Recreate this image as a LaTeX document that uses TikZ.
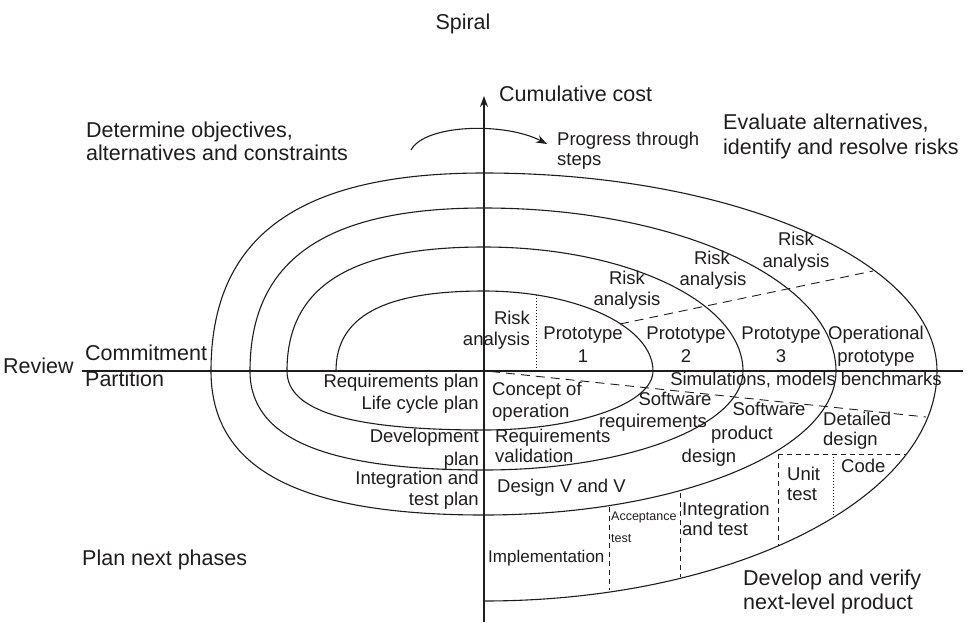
\documentclass[tikz,border=0pt]{standalone}
\usepackage{fontspec}
\setmainfont{Liberation Sans}
\usetikzlibrary{arrows.meta}
\definecolor{ink}{RGB}{30,28,28}
\begin{document}
\begin{tikzpicture}[x=1pt,y=-1pt,
  curve/.style={draw=ink,line width=1.1pt},
  axisline/.style={draw=ink,line width=1.1pt},
  dsh/.style={draw=ink,line width=0.9pt,dash pattern=on 9pt off 6pt},
  dshs/.style={draw=ink,line width=0.9pt,dash pattern=on 5pt off 4pt},
  dotl/.style={draw=ink,line width=0.9pt,dash pattern=on 1pt off 2pt},
  big/.style={inner sep=0pt,text=ink,font=\fontsize{21.5}{24}\selectfont},
  lab/.style={inner sep=0pt,text=ink,font=\fontsize{18.5}{21}\selectfont},
  labi/.style={inner sep=0pt,text=ink,font=\fontsize{17}{20}\selectfont},
  tinylab/.style={inner sep=0pt,text=ink,font=\fontsize{12.5}{14}\selectfont},
  tip/.style={-{Stealth[length=11pt,width=8pt]}}
]
\useasboundingbox (0,0) rectangle (970,622);

% axes
\coordinate (axb) at (484,622);
\coordinate (axt) at (484,96);
\coordinate (hl) at (82,371);
\coordinate (hr) at (963,371);
\draw[axisline,tip] (axb) -- (axt);
\draw[axisline] (hl) -- (hr);

% spiral
\draw[curve] (336,371) .. controls (336,316.6) and (383.4,291) .. (484,291)
 .. controls (577.3,291) and (653,326.8) .. (653,371)
 .. controls (653,403.6) and (577.3,430) .. (484,430)
 .. controls (350,430) and (287,411.1) .. (287,371)
 .. controls (287,286.7) and (350,247) .. (484,247)
 .. controls (627,247) and (743,302.5) .. (743,371)
 .. controls (743,425.7) and (627,470) .. (484,470)
 .. controls (324.9,470) and (250,438.3) .. (250,371)
 .. controls (250,260.2) and (324.9,208) .. (484,208)
 .. controls (678.4,208) and (836,281) .. (836,371)
 .. controls (836,450.5) and (678.4,515) .. (484,515)
 .. controls (298.4,515) and (211,468.9) .. (211,371)
 .. controls (211,236.4) and (298.4,173) .. (484,173)
 .. controls (734.2,173) and (937,261.6) .. (937,371)
 .. controls (937,498) and (734.2,601) .. (484,601);

% progress arrow
\coordinate (pa) at (411,150);
\coordinate (pb) at (547,144);
\draw[curve,tip] (pa) .. controls (425,124) and (505,122) .. (pb);

% dashed and dotted separators
\coordinate (d1a) at (536,295); \coordinate (d1b) at (536,371);
\draw[dotl] (d1a) -- (d1b);
\coordinate (r1) at (620,324); \coordinate (r2) at (873,271);
\draw[dsh] (r1) -- (r2);
\coordinate (s1) at (491,371.5); \coordinate (s2) at (926,417);
\draw[dsh] (s1) -- (s2);
\coordinate (h1) at (778,454); \coordinate (h2) at (906,454);
\draw[dshs] (h1) -- (h2);
\coordinate (v1b) at (778,546);
\draw[dshs] (h1) -- (v1b);
\coordinate (v2a) at (833,454); \coordinate (v2b) at (833,518);
\draw[dotl] (v2a) -- (v2b);
\coordinate (v3a) at (680,493); \coordinate (v3b) at (680,577);
\draw[dshs] (v3a) -- (v3b);
\coordinate (v4a) at (609,507); \coordinate (v4b) at (609,590);
\draw[dshs] (v4a) -- (v4b);

% big labels
\node[big,anchor=mid] (title) at (463,27) {Spiral};
\node[big,anchor=mid west] (cc) at (499,99) {Cumulative cost};
\node[big,anchor=mid west] (q1a) at (86,135) {Determine objectives,};
\node[big,anchor=mid west] (q1b) at (86,158) {alternatives and constraints};
\node[big,anchor=mid west] (q2a) at (723,127) {Evaluate alternatives,};
\node[big,anchor=mid west] (q2b) at (723,152) {identify and resolve risks};
\node[big,anchor=mid west] (rev) at (3,371) {Review};
\node[big,anchor=mid west] (com) at (85,358) {Commitment};
\node[big,anchor=mid west] (par) at (85,384) {Partition};
\node[big,anchor=mid west] (q3) at (82,563) {Plan next phases};
\node[big,anchor=mid west] (q4a) at (743,583) {Develop and verify};
\node[big,anchor=mid west] (q4b) at (743,607) {next-level product};

% progress label
\node[lab,anchor=mid west] (pr1) at (557,143) {Progress through};
\node[lab,anchor=mid west] (pr2) at (557,163) {steps};

% upper right quadrant
\node[lab,anchor=mid] (ra1) at (512,322) {Risk};
\node[lab,anchor=mid east] (ra1b) at (530,343) {analysis};
\node[lab,anchor=mid] (p1a) at (583,337) {Prototype};
\node[lab,anchor=mid] (p1b) at (583,360) {1};
\node[lab,anchor=mid] (p2a) at (686,337) {Prototype};
\node[lab,anchor=mid] (p2b) at (686,360) {2};
\node[lab,anchor=mid] (p3a) at (781,337) {Prototype};
\node[lab,anchor=mid] (p3b) at (781,360) {3};
\node[lab,anchor=mid] (opa) at (876,337) {Operational};
\node[lab,anchor=mid] (opb) at (876,360) {prototype};
\node[lab,anchor=mid] (ra2) at (627,282) {Risk};
\node[lab,anchor=mid] (ra2b) at (627,303) {analysis};
\node[lab,anchor=mid] (ra3) at (712,262) {Risk};
\node[lab,anchor=mid] (ra3b) at (713,283) {analysis};
\node[lab,anchor=mid] (ra4) at (796,243) {Risk};
\node[lab,anchor=mid] (ra4b) at (796,265) {analysis};

% lower right quadrant
\node[lab,anchor=mid] (sim) at (806,383) {Simulations, models benchmarks};
\node[lab,anchor=mid west] (co1) at (492,393) {Concept of};
\node[lab,anchor=mid west] (co2) at (492,415) {operation};
\node[lab,anchor=mid] (sr1) at (675,403) {Software};
\node[lab,anchor=mid] (sr2) at (653,425) {requirements};
\node[lab,anchor=mid] (sp1) at (769,413) {Software};
\node[lab,anchor=mid] (sp2) at (742,437) {product};
\node[lab,anchor=mid] (sp3) at (709,460) {design};
\node[lab,anchor=mid west] (dd1) at (823,423) {Detailed};
\node[lab,anchor=mid west] (dd2) at (823,443) {design};
\node[lab,anchor=mid west] (rv1) at (495,440) {Requirements};
\node[lab,anchor=mid west] (rv2) at (495,460) {validation};
\node[lab,anchor=mid west] (dvv) at (497,490) {Design V and V};
\node[labi,anchor=mid west] (imp) at (488,560) {Implementation};
\node[tinylab,anchor=mid west] (ac1) at (611,518) {Acceptance};
\node[tinylab,anchor=mid west] (ac2) at (611,540) {test};
\node[lab,anchor=mid west] (it1) at (682,513) {Integration};
\node[lab,anchor=mid west] (it2) at (682,533) {and test};
\node[lab,anchor=mid west] (ut1) at (787,478) {Unit};
\node[lab,anchor=mid west] (ut2) at (787,498) {test};
\node[lab,anchor=mid west] (code) at (841,470) {Code};

% lower left quadrant
\node[lab,anchor=mid east] (rp1) at (479,385) {Requirements plan};
\node[lab,anchor=mid east] (rp2) at (479,407) {Life cycle plan};
\node[lab,anchor=mid east] (dp1) at (479,440) {Development};
\node[lab,anchor=mid east] (dp2) at (479,463) {plan};
\node[lab,anchor=mid east] (ip1) at (479,482) {Integration and};
\node[lab,anchor=mid east] (ip2) at (479,503) {test plan};
\end{tikzpicture}
\end{document}
